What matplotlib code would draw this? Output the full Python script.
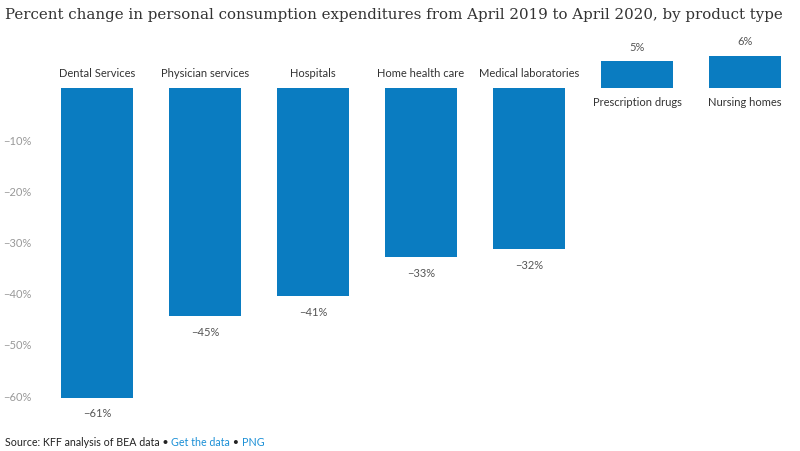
import matplotlib
matplotlib.use('Agg')
import matplotlib.pyplot as plt
import numpy as np

# ─── Data ──────────────────────────────────────────────────────────────────
categories = ['Dental Services', 'Physician services', 'Hospitals',
              'Home health care', 'Medical laboratories',
              'Prescription drugs', 'Nursing homes']
pct_change = [-60.5, -44.6, -40.6, -33.0, -31.5, 5.2, 6.3]
value_labels = ['\u221261%', '\u221245%', '\u221241%', '\u221233%', '\u221232%', '5%', '6%']
yticks = [-10, -20, -30, -40, -50, -60]

BAR_COLOR = '#0a7cc1'
GRAY = '#999999'
TEXT = '#333333'
LINK = '#1a8fd6'

plt.rcParams['font.family'] = ['Lato', 'DejaVu Sans']

fig = plt.figure(figsize=(8, 4.52), dpi=100)
ax = fig.add_axes([43 / 800, (452 - 420) / 452, 756 / 800, 380 / 452])

x = np.arange(len(categories))
ax.bar(x, pct_change, width=0.667, color=BAR_COLOR)

ax.set_xlim(-0.5, 6.5)
ax.set_ylim(-64.65, 9.57)
ax.set_yticks(yticks)
ax.set_yticklabels([f'\u2212{abs(t)}%' for t in yticks])
ax.tick_params(axis='y', length=0, pad=8, labelsize=8, labelcolor=GRAY)
ax.set_xticks([])
for s in ax.spines.values():
    s.set_visible(False)

for xi, v, cat, lab in zip(x, pct_change, categories, value_labels):
    if v < 0:
        ax.annotate(cat, (xi, 0), xytext=(0, 7), textcoords='offset points',
                    ha='center', va='bottom', fontsize=8, color=TEXT)
        ax.annotate(lab, (xi, v), xytext=(0, -7), textcoords='offset points',
                    ha='center', va='top', fontsize=8, color='#555555')
    else:
        ax.annotate(cat, (xi, 0), xytext=(0, -6), textcoords='offset points',
                    ha='center', va='top', fontsize=8, color=TEXT)
        ax.annotate(lab, (xi, v), xytext=(0, 7), textcoords='offset points',
                    ha='center', va='bottom', fontsize=8, color='#555555')

fig.text(5 / 800, 1 - 15 / 452,
         'Percent change in personal consumption expenditures from April 2019 to April 2020, by product type',
         family='DejaVu Serif', fontsize=10.8, color='#333333', va='center', ha='left')

# source line, pieces chained together
t = fig.text(5 / 800, 1 - 446 / 452, 'Source: KFF analysis of BEA data \u2022 ',
             fontsize=7.7, color='#222222', va='baseline')
for piece, col in [('Get the data', LINK), (' \u2022 ', '#222222'), ('PNG', LINK)]:
    t = ax.annotate(piece, xy=(1, 0), xycoords=t, va='bottom', ha='left',
                    fontsize=7.7, color=col, annotation_clip=False)

fig.savefig('out.png', dpi=100)
